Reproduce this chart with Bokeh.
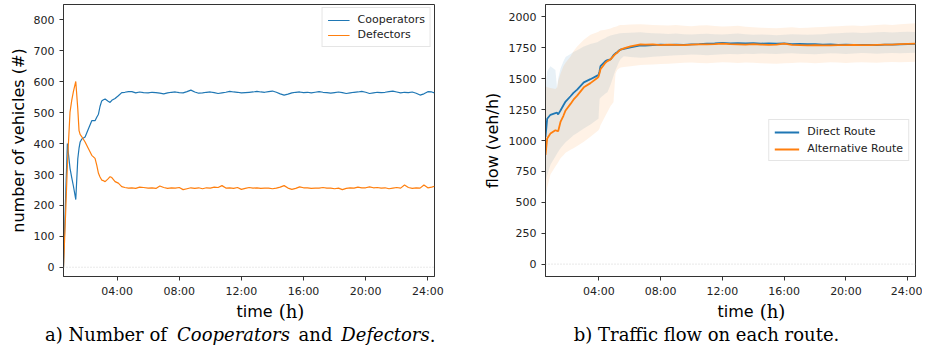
from bokeh.plotting import figure
from bokeh.layouts import row, column
from bokeh.models import Range1d, FixedTicker, Span
from bokeh.core.properties import value
from bokeh.embed import file_html
from bokeh.resources import INLINE

# ---------------- panel a: number of vehicles ----------------
time_a = [0.55, 0.70, 0.80, 0.86, 0.97, 1.08, 1.19, 1.34, 1.47, 1.55, 1.62, 1.73,
          1.94, 2.15, 2.37, 2.58, 2.69, 2.80, 2.90, 3.01, 3.12, 3.23, 3.40, 3.55,
          3.66, 3.87, 4.08, 4.30, 4.50, 4.73, 4.95, 5.20, 5.45, 5.70,
          6.00, 6.25, 6.50, 6.75, 7.00, 7.25, 7.50, 7.75,
          8.00, 8.25, 8.50, 8.75, 9.00, 9.25, 9.50, 9.75,
          10.00, 10.25, 10.50, 10.75, 11.00, 11.25, 11.50, 11.75,
          12.00, 12.25, 12.50, 12.75, 13.00, 13.25, 13.50, 13.75,
          14.00, 14.25, 14.50, 14.75, 15.00, 15.25, 15.50, 15.75,
          16.00, 16.25, 16.50, 16.75, 17.00, 17.25, 17.50, 17.75,
          18.00, 18.25, 18.50, 18.75, 19.00, 19.25, 19.50, 19.75,
          20.00, 20.25, 20.50, 20.75, 21.00, 21.25, 21.50, 21.75,
          22.00, 22.25, 22.50, 22.75, 23.00, 23.25, 23.50, 23.75,
          24.00, 24.25, 24.43]

cooperators = [0, 250, 400, 370, 320, 290, 262, 219, 351, 385, 405, 415,
               421, 447, 474, 474, 485, 495, 520, 538, 542, 544, 538, 533,
               540, 546, 555, 565, 566, 568, 568, 564, 567, 565,
               564, 566, 565, 563, 561, 564, 566, 567,
               565, 564, 568, 573, 567, 563, 564, 566,
               567, 565, 562, 564, 566, 569, 567, 566,
               564, 565, 566, 567, 569, 567, 566, 568,
               570, 566, 561, 557, 560, 564, 566, 567,
               565, 566, 564, 566, 568, 566, 565, 563,
               565, 567, 565, 562, 564, 566, 567, 569,
               566, 562, 564, 566, 565, 566, 568, 570,
               567, 564, 566, 565, 567, 563, 557, 561,
               568, 567, 564]

defectors = [0, 192, 330, 393, 502, 540, 569, 601, 512, 442, 430, 422,
             405, 384, 362, 352, 330, 304, 292, 282, 280, 277, 285, 293,
             290, 277, 272, 261, 258, 256, 257, 255, 259, 258,
             256, 257, 255, 263, 258, 255, 257, 256,
             258, 251, 254, 257, 255, 257, 254, 257,
             256, 259, 258, 264, 256, 257, 255, 258,
             252, 255, 258, 256, 257, 255, 256, 256,
             254, 256, 259, 264, 256, 252, 255, 260,
             257, 257, 255, 256, 256, 258, 256, 256,
             254, 256, 251, 255, 257, 256, 259, 257,
             257, 260, 257, 258, 256, 257, 254, 256,
             258, 256, 266, 258, 255, 257, 256, 266,
             257, 259, 262]

# ---------------- panel b: traffic flow ----------------
time_b = [0.55, 0.66, 0.87, 1.19, 1.30, 1.37, 1.52, 1.71, 1.85, 2.17, 2.36, 2.60,
          3.03, 3.46, 3.90, 3.98, 4.05, 4.11, 4.43, 4.56, 4.76, 4.95, 5.08, 5.19,
          5.28, 5.41, 5.62, 6.05, 6.70,
          7.0, 7.5, 8.0, 8.5, 9.0, 9.5, 10.0, 10.5, 11.0, 11.5, 12.0, 12.5,
          13.0, 13.5, 14.0, 14.5, 15.0, 15.5, 16.0, 16.5, 17.0, 17.5, 18.0, 18.5,
          19.0, 19.5, 20.0, 20.5, 21.0, 21.5, 22.0, 22.5, 23.0, 23.5, 24.0, 24.5]

direct_mean = [1030, 1176, 1208, 1222, 1225, 1211, 1243, 1285, 1315, 1358, 1385, 1411,
               1470, 1496, 1525, 1530, 1560, 1602, 1642, 1650, 1656, 1690, 1705, 1714,
               1725, 1735, 1741, 1754, 1770,
               1768, 1772, 1775, 1774, 1776, 1773, 1778, 1780, 1783, 1786, 1790, 1786,
               1788, 1785, 1787, 1784, 1785, 1784, 1786, 1780, 1781, 1779, 1780, 1776,
               1778, 1774, 1776, 1774, 1773, 1774, 1772, 1776, 1775, 1778, 1780, 1781]
direct_high = [1430, 1560, 1600, 1570, 1420, 1500, 1580, 1640, 1675, 1700, 1715, 1730,
               1760, 1780, 1795, 1800, 1805, 1810, 1830, 1840, 1850, 1855, 1860, 1862,
               1865, 1868, 1870, 1872, 1875,
               1872, 1868, 1865, 1862, 1866, 1860, 1858, 1862, 1864, 1860, 1857, 1862,
               1865, 1860, 1856, 1858, 1855, 1852, 1856, 1860, 1858, 1855, 1857, 1860,
               1865, 1868, 1872, 1874, 1870, 1872, 1876, 1878, 1874, 1877, 1880, 1878]
direct_low = [671, 720, 803, 870, 895, 910, 937, 965, 985, 1020, 1043, 1060,
              1097, 1130, 1170, 1176, 1336, 1345, 1380, 1390, 1450, 1522, 1570, 1600,
              1629, 1660, 1682, 1675, 1669,
              1672, 1678, 1682, 1686, 1690, 1692, 1695, 1693, 1690, 1694, 1697, 1700,
              1698, 1702, 1700, 1704, 1702, 1699, 1703, 1706, 1702, 1700, 1698, 1702,
              1705, 1703, 1700, 1704, 1707, 1705, 1702, 1706, 1708, 1705, 1708, 1710]

alt_mean = [883, 1017, 1057, 1083, 1078, 1075, 1150, 1200, 1243, 1296, 1330, 1363,
            1430, 1464, 1505, 1515, 1545, 1576, 1629, 1642, 1656, 1683, 1700, 1709,
            1722, 1735, 1745, 1762, 1778,
            1775, 1778, 1772, 1776, 1774, 1772, 1776, 1778, 1777, 1780, 1784, 1779,
            1778, 1776, 1779, 1776, 1774, 1776, 1783, 1774, 1772, 1770, 1772, 1769,
            1770, 1771, 1772, 1773, 1771, 1772, 1774, 1775, 1776, 1779, 1781, 1783]
alt_high = [1440, 1430, 1425, 1416, 1430, 1482, 1540, 1600, 1629, 1680, 1722, 1760,
            1815, 1855, 1875, 1880, 1885, 1890, 1895, 1900, 1905, 1915, 1920, 1925,
            1930, 1935, 1935, 1938, 1940,
            1938, 1935, 1932, 1930, 1934, 1928, 1925, 1930, 1932, 1926, 1922, 1925,
            1928, 1920, 1915, 1912, 1910, 1908, 1912, 1915, 1910, 1912, 1915, 1918,
            1922, 1925, 1928, 1930, 1926, 1930, 1934, 1938, 1935, 1940, 1945, 1948]
alt_low = [520, 620, 724, 790, 810, 825, 857, 880, 900, 925, 937, 955,
           990, 1030, 1075, 1083, 1100, 1123, 1200, 1230, 1280, 1310, 1540, 1570,
           1580, 1590, 1595, 1600, 1610,
           1612, 1615, 1618, 1620, 1625, 1628, 1630, 1626, 1624, 1628, 1632, 1630,
           1627, 1631, 1628, 1625, 1622, 1620, 1624, 1627, 1630, 1628, 1625, 1628,
           1632, 1630, 1627, 1630, 1633, 1631, 1628, 1632, 1635, 1632, 1634, 1636]

hour_ticks = [4, 8, 12, 16, 20, 24]
hour_labels = ["04:00", "08:00", "12:00", "16:00", "20:00", "24:00"]
a_yticks = [0, 100, 200, 300, 400, 500, 600, 700, 800]
b_yticks = [0, 250, 500, 750, 1000, 1250, 1500, 1750, 2000]

BLUE = "#1f77b4"
ORANGE = "#ff7f0e"
AXC = "#333333"
SANS = "DejaVu Sans"
SERIF = "DejaVu Serif"

PLOT_H = 300


def style(p, yticks, ylabel, ylabel_standoff):
    p.outline_line_color = AXC
    p.outline_line_width = 1
    p.background_fill_color = "white"
    p.border_fill_color = "white"
    p.xgrid.grid_line_color = None
    p.ygrid.grid_line_color = None
    p.xaxis.ticker = FixedTicker(ticks=hour_ticks)
    p.xaxis.major_label_overrides = {t: l for t, l in zip(hour_ticks, hour_labels)}
    p.yaxis.ticker = FixedTicker(ticks=yticks)
    for ax in (p.xaxis[0], p.yaxis[0]):
        ax.axis_line_color = AXC
        ax.major_tick_line_color = AXC
        ax.major_tick_out = 4
        ax.major_tick_in = 0
        ax.minor_tick_line_color = None
        ax.major_label_text_font = SANS
        ax.major_label_text_font_size = "11px"
        ax.major_label_text_color = "#222222"
    p.xaxis.major_label_standoff = 4
    p.yaxis.major_label_standoff = 5
    p.yaxis.axis_label = ylabel
    p.yaxis.axis_label_text_font = SANS
    p.yaxis.axis_label_text_font_size = "16px"
    p.yaxis.axis_label_text_font_style = "normal"
    p.yaxis.axis_label_text_color = "black"
    p.yaxis.axis_label_standoff = ylabel_standoff
    p.add_layout(Span(location=0, dimension="width", line_color="#c8c8c8",
                      line_dash="1 2", line_width=0.8))


def style_legend(p, location, margin, glyph_w, spacing):
    lg = p.legend[0]
    lg.location = location
    lg.margin = margin
    lg.padding = 5
    lg.spacing = spacing
    lg.glyph_width = glyph_w
    lg.glyph_height = 12
    lg.label_height = 12
    lg.label_standoff = 8
    lg.label_text_font = SANS
    lg.label_text_font_size = "11px"
    lg.label_text_color = "#222222"
    lg.border_line_color = "#cccccc"
    lg.background_fill_alpha = 0.8


# ---------------- figure a ----------------
pa = figure(width=464, height=PLOT_H, output_backend="svg", toolbar_location=None,
            x_range=Range1d(0.55, 24.43), y_range=Range1d(-30, 850),
            min_border_left=63, min_border_right=30, min_border_top=4, min_border_bottom=20)
style(pa, a_yticks, "number of vehicles (#)", 3)
pa.line(time_a, cooperators, line_color=BLUE, line_width=1.2, legend_label="Cooperators")
pa.line(time_a, defectors, line_color=ORANGE, line_width=1.2, legend_label="Defectors")
style_legend(pa, "top_right", 3, 22, 2)

# ---------------- figure b ----------------
pb = figure(width=458, height=PLOT_H, output_backend="svg", toolbar_location=None,
            x_range=Range1d(0.55, 24.5), y_range=Range1d(-100, 2100),
            min_border_left=81, min_border_right=7, min_border_top=4, min_border_bottom=20)
style(pb, b_yticks, "flow (veh/h)", 4)
pb.varea(time_b, direct_low, direct_high, fill_color=BLUE, fill_alpha=0.1)
pb.varea(time_b, alt_low, alt_high, fill_color=ORANGE, fill_alpha=0.1)
pb.line(time_b, direct_mean, line_color=BLUE, line_width=1.8, legend_label="Direct Route")
pb.line(time_b, alt_mean, line_color=ORANGE, line_width=1.8, legend_label="Alternative Route")
style_legend(pb, "center_right", 6, 25, 4)

# ---------------- caption strip (x-axis titles and sub-captions) ----------------
STRIP_W = 922
cap = figure(width=STRIP_W, height=350 - PLOT_H, output_backend="svg", toolbar_location=None,
             x_range=Range1d(0, STRIP_W), y_range=Range1d(350, PLOT_H),
             x_axis_location=None, y_axis_location=None,
             min_border_left=0, min_border_right=0, min_border_top=0, min_border_bottom=0)
cap.outline_line_color = None
cap.xgrid.grid_line_color = None
cap.ygrid.grid_line_color = None
cap.background_fill_color = "white"
cap.border_fill_color = "white"


def caption(x, y, text, font, size, fstyle="normal"):
    cap.text(x=[x], y=[y], text=[text], text_font=value(font),
             text_font_size=value(f"{size}px"), text_font_style=value(fstyle),
             text_color="black", text_align="center", text_baseline="middle")


caption(254, 311, "time", SANS, 16)
caption(291, 311, "(h)", SERIF, 18)
caption(735, 311, "time", SANS, 16)
caption(772, 311, "(h)", SERIF, 18)
caption(105.5, 334, "a) Number of", SERIF, 18)
caption(233, 334, "Cooperators", SERIF, 18, "italic")
caption(315, 334, "and", SERIF, 18)
caption(385, 334, "Defectors", SERIF, 18, "italic")
caption(432, 334, ".", SERIF, 18)
caption(706, 334, "b) Traffic flow on each route.", SERIF, 18)

layout = column(row(pa, pb), cap)
open("out.html", "w").write(file_html(layout, INLINE))
